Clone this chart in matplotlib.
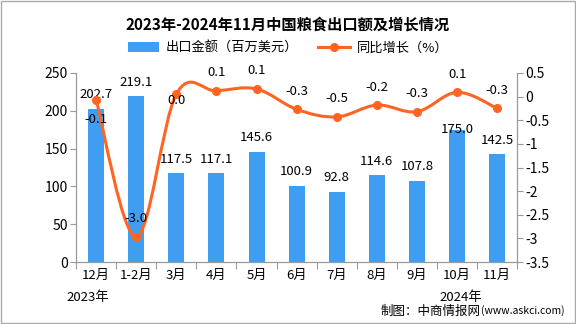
import matplotlib

matplotlib.use("Agg")
import matplotlib.pyplot as plt
import numpy as np
from matplotlib.patches import PathPatch, Rectangle
from matplotlib.path import Path
from matplotlib.lines import Line2D
from matplotlib.patches import Patch

plt.rcParams["font.family"] = ["Noto Sans CJK SC", "DejaVu Sans"]
plt.rcParams["axes.unicode_minus"] = False

months = ["12月", "1-2月", "3月", "4月", "5月", "6月", "7月", "8月", "9月", "10月", "11月"]
export_value = [202.7, 219.1, 117.5, 117.1, 145.6, 100.9, 92.8, 114.6, 107.8, 175.0, 142.5]
growth = [-0.07, -2.96, 0.05, 0.12, 0.16, -0.27, -0.43, -0.18, -0.32, 0.09, -0.25]
growth_labels = ["-0.1", "-3.0", "0.0", "0.1", "0.1", "-0.3", "-0.5", "-0.2", "-0.3", "0.1", "-0.3"]

BAR_COLOR = "#409ef2"
LINE_COLOR = "#ff6422"
AXIS_GRAY = "#999999"


def smooth_path(xs, ys, s=0.35):
    # cubic bezier through the points (cardinal spline style)
    pts = np.column_stack([xs, ys])
    verts = [pts[0]]
    codes = [Path.MOVETO]
    n = len(pts)
    for i in range(n - 1):
        p0 = pts[i - 1] if i > 0 else pts[i]
        p1 = pts[i]
        p2 = pts[i + 1]
        p3 = pts[i + 2] if i + 2 < n else pts[i + 1]
        c1 = p1 + s * (p2 - p0) / 2
        c2 = p2 - s * (p3 - p1) / 2
        verts += [c1, c2, p2]
        codes += [Path.CURVE4] * 3
    return Path(verts, codes)


fig = plt.figure(figsize=(5.76, 3.24), dpi=100)
ax = fig.add_axes([0.132, 0.191, 0.766, 0.584])
ax2 = ax.twinx()

x = np.arange(len(months))
ax.bar(x, export_value, width=0.4, color=BAR_COLOR, zorder=2)
ax.set_xlim(-0.5, len(months) - 0.5)
ax.set_ylim(0, 250)
ax.set_yticks(np.arange(0, 251, 50))

for i, v in enumerate(export_value):
    dy = 0 if i == 9 else 14
    ax.annotate(f"{v:.1f}", (i, v), xytext=(0, dy), textcoords="offset pixels",
                ha="center", va="center", fontsize=9.5)

ax2.set_ylim(-3.5, 0.5)
ax2.set_yticks(np.arange(-3.5, 0.51, 0.5))
ax2.set_yticklabels([f"{t:g}" for t in np.arange(-3.5, 0.51, 0.5)])
ax2.add_patch(PathPatch(smooth_path(x, growth), facecolor="none", edgecolor=LINE_COLOR,
                        lw=2.2, zorder=3))
ax2.plot(x, growth, "o", color=LINE_COLOR, ms=5.5, zorder=4)

for i, (v, lab) in enumerate(zip(growth, growth_labels)):
    dy = 18
    if i == 0:
        dy = -20
    elif i == 2:
        dy = -6
    ax2.annotate(lab, (i, v), xytext=(0, dy), textcoords="offset pixels",
                 ha="center", va="center", fontsize=9.5, zorder=5)

# x axis: ticks at category boundaries, labels at centers
ax.set_xticks(np.arange(-0.5, len(months), 1.0))
ax.set_xticklabels([])
ax.set_xticks(x, minor=True)
ax.set_xticklabels(months, minor=True, fontsize=9.5)
ax.tick_params(axis="x", which="major", length=5, color=AXIS_GRAY)
ax.tick_params(axis="x", which="minor", length=0, pad=5)
ax.tick_params(axis="y", length=4, color=AXIS_GRAY, labelsize=10, pad=2)
ax2.tick_params(axis="y", length=4, color=AXIS_GRAY, labelsize=10, pad=2)

for a in (ax, ax2):
    a.spines["top"].set_visible(False)
    for side in ("left", "right", "bottom"):
        a.spines[side].set_color(AXIS_GRAY)

ax.text(-0.2, -0.185, "2023年", transform=ax.get_xaxis_transform(), ha="center",
        va="center", fontsize=9.5)
ax.text(9.1, -0.185, "2024年", transform=ax.get_xaxis_transform(), ha="center",
        va="center", fontsize=9.5)

fig.text(0.5, 0.923, "2023年-2024年11月中国粮食出口额及增长情况", ha="center", va="center",
         fontsize=11, fontweight="bold")

handles = [
    Patch(facecolor=BAR_COLOR, edgecolor="none"),
    Line2D([0], [0], color=LINE_COLOR, lw=2.2, marker="o", ms=5.5),
]
fig.legend(handles, ["出口金额（百万美元）", "同比增长（%）"], loc="center",
           bbox_to_anchor=(0.5, 0.852), ncol=2, frameon=False, fontsize=9.5,
           handlelength=2.4, handleheight=0.9, columnspacing=1.5, handletextpad=0.5)

fig.text(0.835, 0.04, "制图：中商情报网", ha="right", va="center", fontsize=9)
fig.text(0.835, 0.04, "(www.askci.com)", ha="left", va="center", fontsize=7.5)

fig.add_artist(Rectangle((0.001, 0.002), 0.997, 0.995, transform=fig.transFigure,
                         fill=False, edgecolor="#aaaaaa", lw=1))

fig.savefig("out.png", dpi=100)
